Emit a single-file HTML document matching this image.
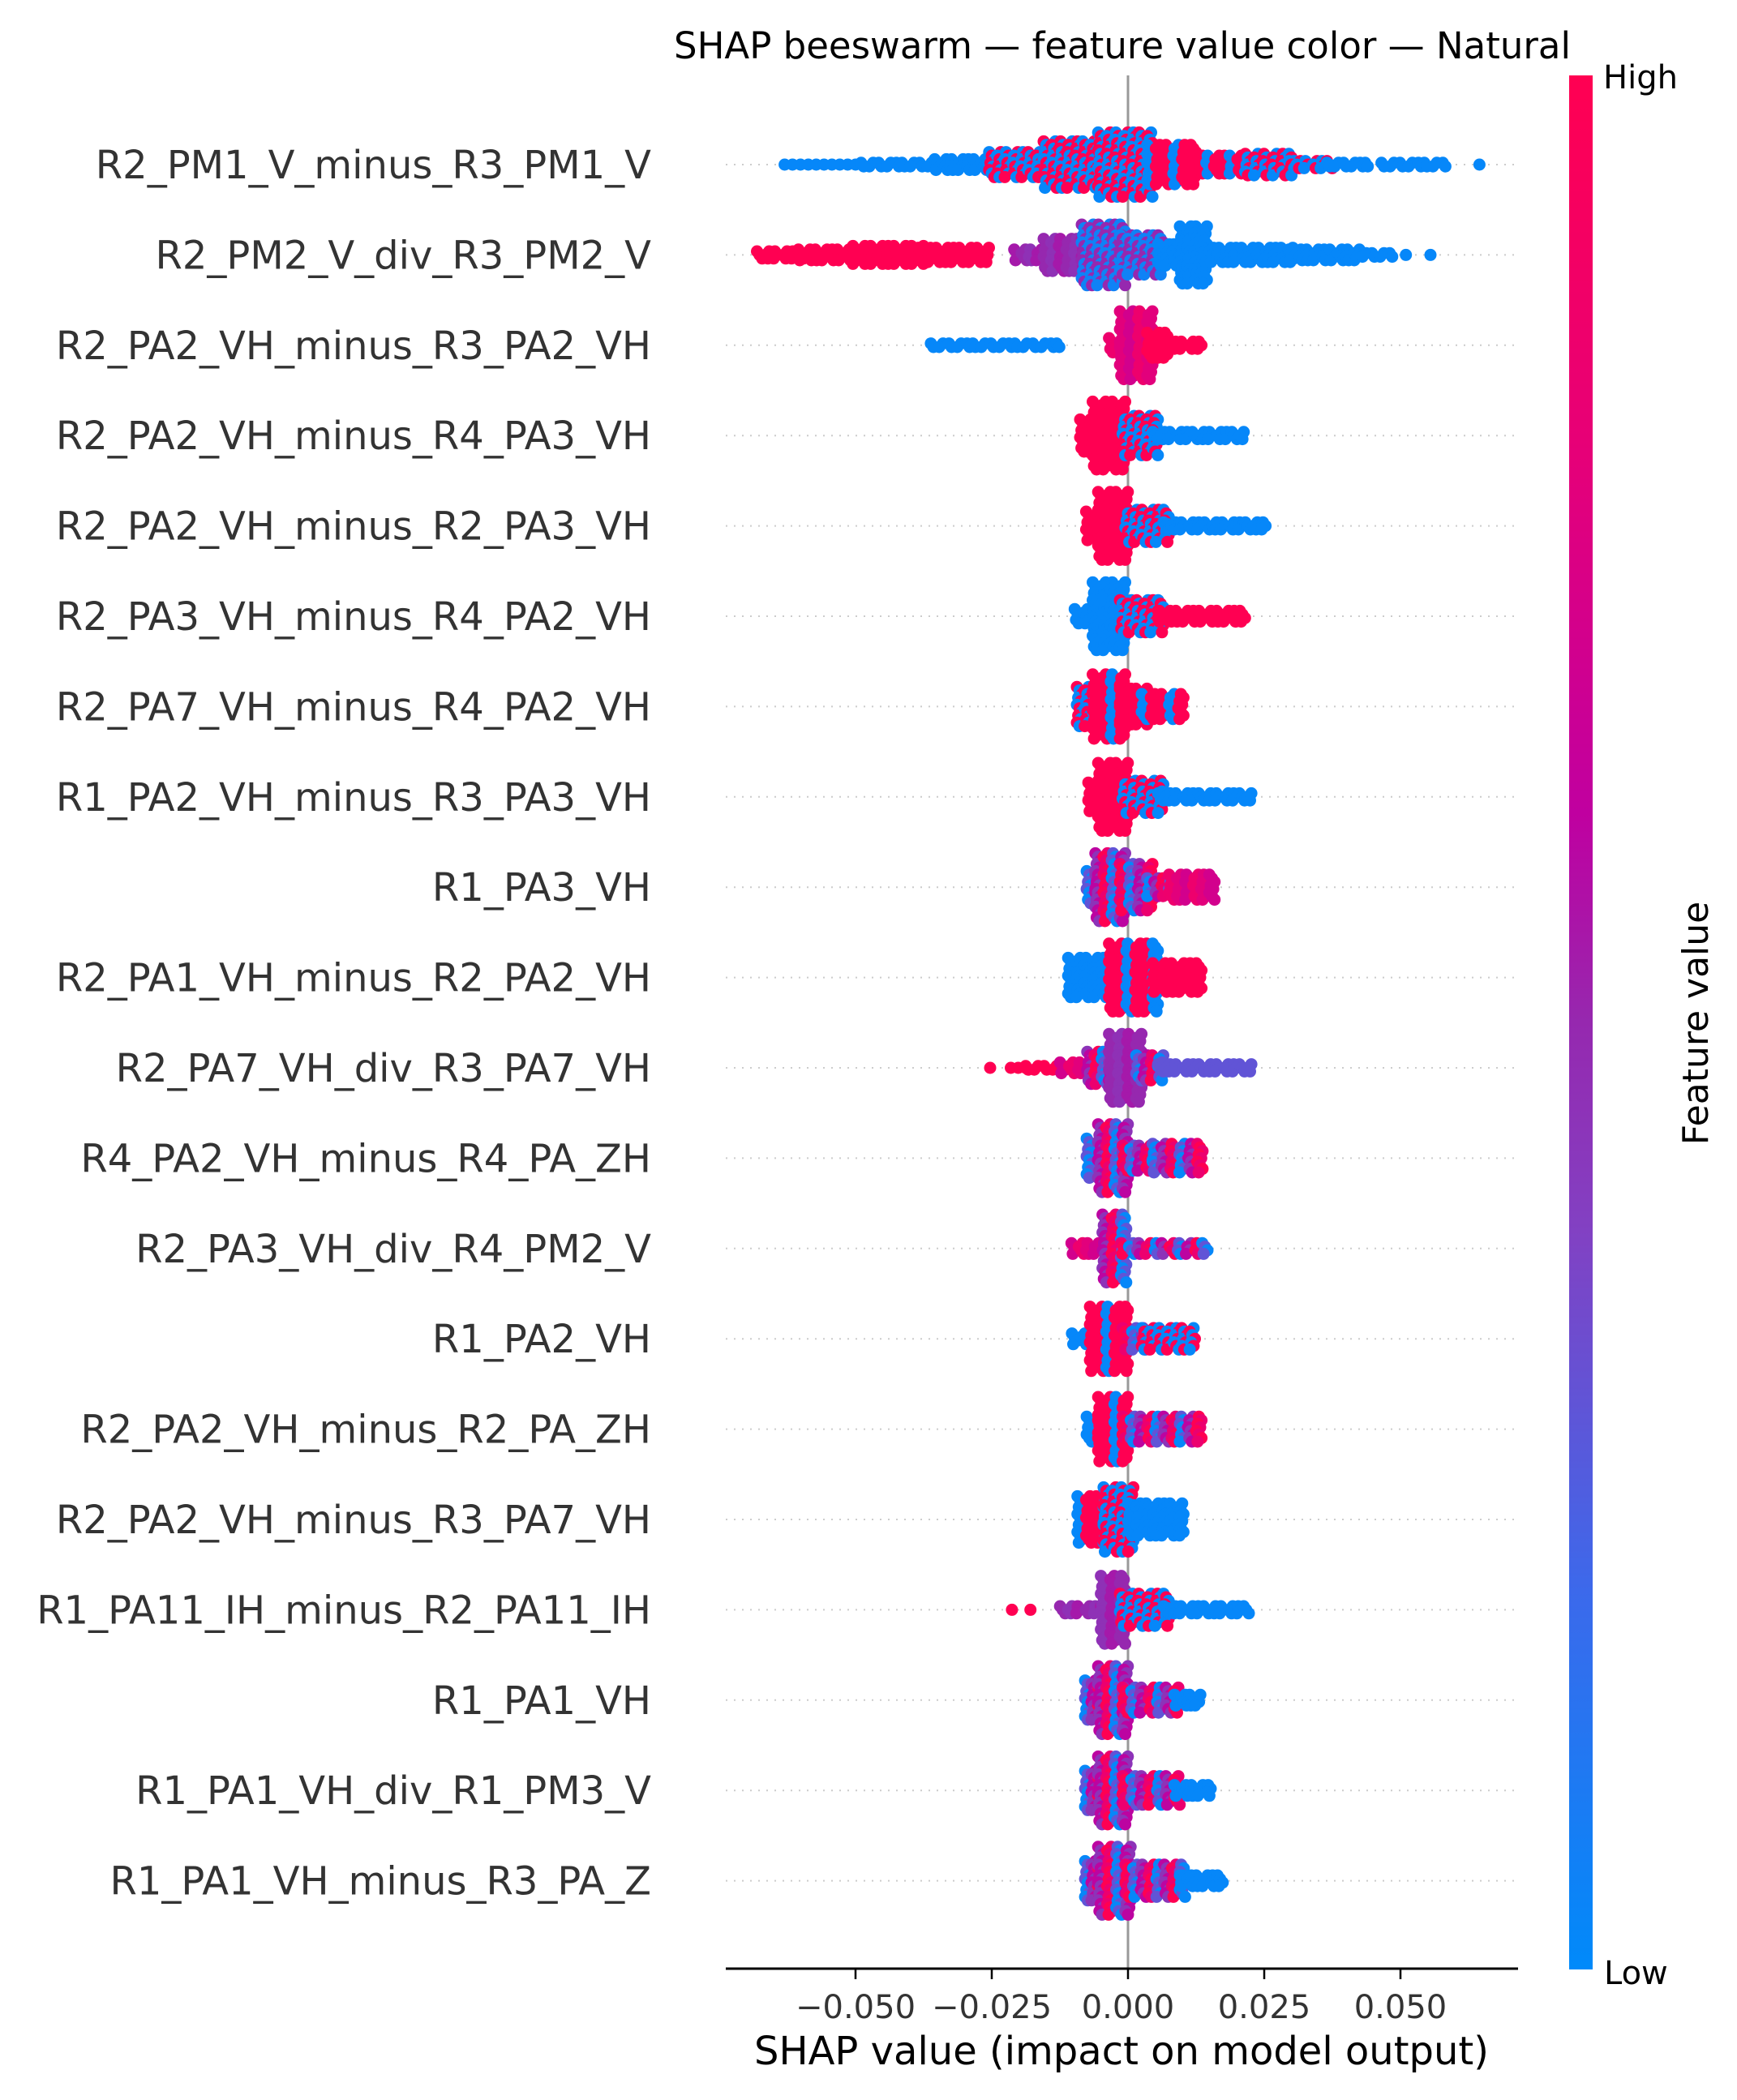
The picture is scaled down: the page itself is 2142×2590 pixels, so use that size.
<!DOCTYPE html>
<html><head><meta charset="utf-8"><style>
html,body{margin:0;padding:0;background:#fff;}
svg{display:block;font-family:"DejaVu Sans","Liberation Sans",sans-serif;}
</style></head><body>
<svg id="chart" width="2142" height="2590" viewBox="0 0 2142 2590" xmlns="http://www.w3.org/2000/svg">
<defs>
<linearGradient id="cbar" x1="0" y1="1" x2="0" y2="0">
<stop offset="0" stop-color="rgb(0,138,250)"/>
<stop offset="0.2" stop-color="rgb(60,105,235)"/>
<stop offset="0.39" stop-color="rgb(130,65,195)"/>
<stop offset="0.5" stop-color="rgb(150,40,175)"/>
<stop offset="0.61" stop-color="rgb(192,0,160)"/>
<stop offset="0.8" stop-color="rgb(230,0,120)"/>
<stop offset="1" stop-color="rgb(255,0,82)"/>
</linearGradient>
</defs>
<text x="1384" y="72" font-size="45" text-anchor="middle" fill="#000">SHAP beeswarm — feature value color — Natural</text>
<g id="grid"></g>
<line x1="1391" y1="93" x2="1391" y2="2427" stroke="#999" stroke-width="3"/>
<g id="dots"></g>
<g id="ylabels"></g>
<line x1="895" y1="2428" x2="1872" y2="2428" stroke="#000" stroke-width="3"/>
<g id="xticks"></g>
<text x="1383" y="2546" font-size="48" text-anchor="middle" fill="#000">SHAP value (impact on model output)</text>
<rect x="1935" y="93" width="29" height="2336" fill="url(#cbar)"/>
<text x="1977" y="109" font-size="40" fill="#000">High</text>
<text x="1978" y="2447" font-size="40" fill="#000">Low</text>
<text transform="translate(2106,1262) rotate(-90)" font-size="44" text-anchor="middle" fill="#000">Feature value</text>
</svg>
<script>
const features = ["R2_PM1_V_minus_R3_PM1_V","R2_PM2_V_div_R3_PM2_V","R2_PA2_VH_minus_R3_PA2_VH","R2_PA2_VH_minus_R4_PA3_VH","R2_PA2_VH_minus_R2_PA3_VH","R2_PA3_VH_minus_R4_PA2_VH","R2_PA7_VH_minus_R4_PA2_VH","R1_PA2_VH_minus_R3_PA3_VH","R1_PA3_VH","R2_PA1_VH_minus_R2_PA2_VH","R2_PA7_VH_div_R3_PA7_VH","R4_PA2_VH_minus_R4_PA_ZH","R2_PA3_VH_div_R4_PM2_V","R1_PA2_VH","R2_PA2_VH_minus_R2_PA_ZH","R2_PA2_VH_minus_R3_PA7_VH","R1_PA11_IH_minus_R2_PA11_IH","R1_PA1_VH","R1_PA1_VH_div_R1_PM3_V","R1_PA1_VH_minus_R3_PA_Z"];
const xTicks = [-0.05,-0.025,0,0.025,0.05];
const xTickLabels = ["\u22120.050","\u22120.025","0.000","0.025","0.050"];
// segments: [shapFrom, shapTo, dotsStacked, colorCode]
const seg1 = [[-0.063,-0.050,1,'b'],[-0.0485,-0.035,2,'b'],[-0.035,-0.025,4,'b'],[-0.025,-0.015,8,'m'],[-0.015,-0.005,14,'m'],[-0.005,0.004,19,'m'],[0.004,0.012,12,'R'],[0.012,0.022,6,'R'],[0.022,0.030,7,'m'],[0.030,0.037,3,'m'],[0.037,0.044,2,'b'],[0.047,0.058,2,'b'],[0.0645,0.0645,1,'b']];
const seg2 = [[-0.0676,-0.060,3,'r'],[-0.060,-0.050,4,'r'],[-0.050,-0.038,6,'r'],[-0.038,-0.026,5,'r'],[-0.0204,-0.015,4,'p'],[-0.015,-0.008,10,'p'],[-0.008,-0.001,18,'n'],[-0.001,0.006,12,'n'],[0.006,0.010,7,'b'],[0.010,0.014,17,'b'],[0.014,0.030,5,'b'],[0.030,0.042,4,'b'],[0.042,0.048,2,'b'],[0.051,0.051,1,'b'],[0.0555,0.0555,1,'b']];
const seg3 = [[-0.0357,-0.0126,2,'b'],[-0.003,-0.001,5,'v'],[-0.001,0.004,20,'v'],[0.004,0.007,8,'r'],[0.007,0.013,3,'r']];
const seg4 = [[-0.0083,-0.006,10,'r'],[-0.006,-0.001,20,'r'],[-0.0005,0.005,12,'m'],[0.005,0.021,3,'b']];
const seg5 = [[-0.0072,-0.005,9,'r'],[-0.005,-0.0005,20,'r'],[0,0.007,10,'m'],[0.007,0.025,3,'b']];
const seg6 = [[-0.0093,-0.006,5,'b'],[-0.006,-0.001,20,'b'],[-0.001,0.006,10,'m'],[0.006,0.021,4,'r']];
const seg7 = [[-0.0089,-0.006,12,'m'],[-0.006,-0.001,19,'R'],[-0.001,0.003,11,'r'],[0.003,0.0097,8,'R']];
const seg8 = [[-0.0068,-0.005,9,'r'],[-0.005,-0.0005,20,'r'],[-0.0005,0.006,10,'m'],[0.006,0.0224,3,'b']];
const seg9 = [[-0.0071,-0.0055,10,'q'],[-0.0055,-0.001,20,'q'],[-0.001,0.004,14,'q'],[0.004,0.008,6,'q'],[0.008,0.0154,8,'v']];
const seg10 = [[-0.0105,-0.003,12,'b'],[-0.003,0.005,20,'R'],[0.005,0.013,9,'r']];
const seg11 = [[-0.0253,-0.0253,1,'r'],[-0.0215,-0.0188,1,'r'],[-0.0183,-0.012,2,'r'],[-0.012,-0.007,4,'v'],[-0.007,-0.003,10,'q'],[-0.003,0.002,20,'p'],[0.002,0.006,8,'q'],[0.006,0.0224,3,'u']];
const seg12 = [[-0.0071,-0.005,12,'q'],[-0.005,-0.0005,20,'q'],[-0.0005,0.005,8,'q'],[0.005,0.0132,9,'q']];
const seg13 = [[-0.0099,-0.0045,4,'v'],[-0.0042,-0.0008,20,'q'],[-0.0008,0.0141,4,'q']];
const seg14 = [[-0.0098,-0.0065,4,'b'],[-0.0065,-0.0005,19,'R'],[-0.0005,0.003,7,'q'],[0.003,0.0118,7,'m']];
const seg15 = [[-0.0071,-0.005,8,'R'],[-0.005,-0.0005,19,'R'],[-0.0005,0.013,8,'q']];
const seg16 = [[-0.0088,-0.004,14,'R'],[-0.004,0.0005,19,'m'],[0.0005,0.0097,10,'b']];
const seg17 = [[-0.0213,-0.0213,1,'r'],[-0.0179,-0.0179,1,'r'],[-0.012,-0.0045,3,'p'],[-0.0045,-0.001,20,'p'],[-0.001,0.007,10,'m'],[0.007,0.0217,3,'b']];
const seg18 = [[-0.0074,-0.005,12,'q'],[-0.005,-0.0005,20,'q'],[-0.0005,0.009,8,'q'],[0.009,0.0128,4,'b']];
const seg19 = [[-0.0074,-0.005,12,'q'],[-0.005,-0.0005,20,'q'],[-0.0005,0.009,9,'q'],[0.009,0.0147,4,'b']];
const seg20 = [[-0.0074,-0.005,12,'q'],[-0.005,0,20,'q'],[0,0.010,10,'q'],[0.010,0.0169,4,'b']];
const rowSegments = [seg1,seg2,seg3,seg4,seg5,seg6,seg7,seg8,seg9,seg10,seg11,seg12,seg13,seg14,seg15,seg16,seg17,seg18,seg19,seg20];

const NS = "http://www.w3.org/2000/svg";
const X0 = 1391, PXU = 6720;
function xScale(v){ return X0 + v * PXU; }
function yRow(i){ return 203 + i * 111.4; }
const stops = [[0,[0,138,250]],[0.2,[60,105,235]],[0.39,[130,65,195]],[0.5,[150,40,175]],[0.61,[192,0,160]],[0.8,[230,0,120]],[1,[255,0,82]]];
function cmap(t){
  for (let i=1;i<stops.length;i++){
    if (t<=stops[i][0]){
      const a=stops[i-1], b=stops[i], f=(t-a[0])/(b[0]-a[0]);
      const c=a[1].map((v,k)=>Math.round(v+(b[1][k]-v)*f));
      return "rgb("+c.join(",")+")";
    }
  }
  return "rgb(255,0,82)";
}
function colorFor(code, k, j){
  const s = (k*3 + j*5) % 6;
  switch(code){
    case 'b': return cmap(0.02);
    case 'r': return cmap(1);
    case 'p': return cmap(0.5 + (s%3-1)*0.04);
    case 'v': return cmap(0.78 + (s%3-1)*0.08);
    case 'u': return cmap(0.3);
    case 'm': return (s%2===0) ? cmap(1) : cmap(0.02);
    case 'R': return (s%3===0) ? cmap(0.02) : cmap(1);
    case 'n': return (s%2===0) ? cmap(0.5) : cmap(0.05);
    case 'q': return cmap([0.02,1,0.45,0.3,0.85,0.6][s]);
  }
  return cmap(0.5);
}
const grid = document.getElementById('grid');
const dots = document.getElementById('dots');
const ylab = document.getElementById('ylabels');
features.forEach((name, i) => {
  const y = yRow(i);
  const gl = document.createElementNS(NS,'line');
  
  
  gl.setAttribute('x1', 895); gl.setAttribute('x2', 1870);
  gl.setAttribute('y1', y); gl.setAttribute('y2', y);
  gl.setAttribute('stroke', '#ccc'); gl.setAttribute('stroke-width', '2');
  gl.setAttribute('stroke-dasharray', '2 8');
  grid.appendChild(gl);
  const t = document.createElementNS(NS,'text');
  
  
  t.setAttribute('x', 803); t.setAttribute('y', y + 17);
  t.setAttribute('font-size', '48'); t.setAttribute('text-anchor', 'end');
  t.setAttribute('fill', '#333');
  t.textContent = name;
  ylab.appendChild(t);
  const g = document.createElementNS(NS,'g');
  
  
  dots.appendChild(g);
  const step = 0.0015;
  rowSegments[i].forEach((sg, si) => {
    const a = sg[0], b = sg[1], n = sg[2], code = sg[3];
    const nb = Math.max(1, Math.round((b - a) / step) + 1);
    for (let j = 0; j < nb; j++){
      const v = nb === 1 ? a : a + (b - a) * j / (nb - 1);
      for (let k = 0; k < n; k++){
        const off = (k - (n - 1) / 2) * 4.4;
        const jx = n > 1 ? (((k * 7 + j * 3) % 5) - 2) * 1.6 : 0;
        const c = document.createElementNS(NS,'circle');
        
        
        c.setAttribute('cx', (xScale(v) + jx).toFixed(1));
        c.setAttribute('cy', (y + off).toFixed(1));
        c.setAttribute('r', '7.5');
        c.setAttribute('fill', colorFor(code, k, j + si));
        g.appendChild(c);
      }
    }
  });
});
const xt = document.getElementById('xticks');
xTicks.forEach((v, i) => {
  const x = xScale(v);
  const l = document.createElementNS(NS,'line');
  
  
  l.setAttribute('x1', x); l.setAttribute('x2', x);
  l.setAttribute('y1', 2428); l.setAttribute('y2', 2441);
  l.setAttribute('stroke', '#000'); l.setAttribute('stroke-width', '2.5');
  xt.appendChild(l);
  const t = document.createElementNS(NS,'text');
  
  
  t.setAttribute('x', x); t.setAttribute('y', 2489);
  t.setAttribute('font-size', '40'); t.setAttribute('text-anchor', 'middle');
  t.setAttribute('fill', '#333');
  t.textContent = xTickLabels[i];
  xt.appendChild(t);
});
</script>
</body></html>
